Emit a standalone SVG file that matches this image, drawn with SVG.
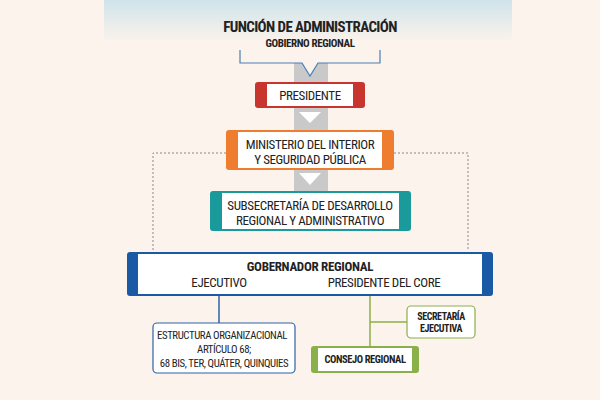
<svg xmlns="http://www.w3.org/2000/svg" width="600" height="400" viewBox="0 0 600 400">
<defs>
<linearGradient id="top" x1="0" y1="0" x2="0" y2="1"><stop offset="0" stop-color="#cfe3ea"/><stop offset="1" stop-color="#fcf3ec"/></linearGradient>
<style>
text{font-family:"Roboto Condensed","Liberation Sans Narrow","Liberation Sans",Arial,sans-serif;fill:#222;text-anchor:middle}
.b{font-weight:bold}
.t{font-size:13px;letter-spacing:-0.4px}
.s{font-size:10.8px;letter-spacing:-0.4px}
</style>
</defs>
<rect width="600" height="400" fill="#fcf3ec"/>
<rect x="104" y="0" width="408" height="42" fill="url(#top)"/>
<text x="310" y="32" class="b" style="font-size:15px;letter-spacing:-0.6px">FUNCIÓN DE ADMINISTRACIÓN</text>
<text x="310" y="47" class="b" style="font-size:11px;letter-spacing:-0.4px">GOBIERNO REGIONAL</text>
<g id="connectors">
<rect x="294" y="62" width="34" height="132" fill="#c9c9c9"/>
<path d="M240 50 V63 H302 L310 76 L318 63 H380 V50" fill="#fcf3ec" stroke="#4a7fb5" stroke-width="1.2"/>
<path d="M299 112 H321 L310 123 Z M299 173 H321 L310 185 Z" fill="#fff"/>
<path d="M226 153 H153 V250 M394 153 H468 V250" fill="none" stroke="#888" stroke-dasharray="2,2"/>
<path d="M219 296 V323" stroke="#2d63a6" stroke-width="1.5"/>
<path d="M370 296 V346 M370 322 H407" stroke="#8ab04a" stroke-width="1.5" fill="none"/>
</g>
<g id="presidente">
<rect x="255" y="82" width="110" height="26" rx="3" fill="#c8352e"/>
<rect x="267" y="84" width="86" height="22" fill="#fff"/>
<text x="310" y="100" class="t">PRESIDENTE</text>
</g>
<g id="ministerio">
<rect x="226" y="130" width="168" height="40" rx="3" fill="#ee7d30"/>
<rect x="238" y="132" width="144" height="36" fill="#fff"/>
<text x="310" y="149" class="t">MINISTERIO DEL INTERIOR</text>
<text x="310" y="164" class="t">Y SEGURIDAD PÚBLICA</text>
</g>
<g id="subsecretaria">
<rect x="210" y="191" width="201" height="40" rx="3" fill="#1a9a9a"/>
<rect x="222" y="193" width="177" height="36" fill="#fff"/>
<text x="310" y="210" class="t">SUBSECRETARÍA DE DESARROLLO</text>
<text x="310" y="225" class="t">REGIONAL Y ADMINISTRATIVO</text>
</g>
<g id="gobernador">
<rect x="127" y="252" width="366" height="44" rx="3" fill="#1a5aa5"/>
<rect x="138" y="254" width="344" height="40" fill="#fff"/>
<text x="310" y="271" class="b" style="font-size:13px;letter-spacing:-0.3px">GOBERNADOR REGIONAL</text>
<text x="219" y="287" class="t">EJECUTIVO</text>
<text x="384" y="287" class="t">PRESIDENTE DEL CORE</text>
</g>
<g id="estructura">
<rect x="153" y="323" width="142" height="50" rx="4" fill="#fff" stroke="#2d63a6" stroke-width="1.2"/>
<text x="222" y="339" class="s">ESTRUCTURA ORGANIZACIONAL</text>
<text x="224" y="353" class="s">ARTÍCULO 68;</text>
<text x="224" y="367" class="s">68 BIS, TER, QUÁTER, QUINQUIES</text>
</g>
<g id="secretaria">
<rect x="407" y="306" width="68" height="32" rx="4" fill="#fff" stroke="#8ab04a" stroke-width="1.2"/>
<text x="441" y="320" class="b" style="font-size:10px;letter-spacing:-0.4px">SECRETARÍA</text>
<text x="441" y="332" class="b" style="font-size:10px;letter-spacing:-0.4px">EJECUTIVA</text>
</g>
<g id="consejo">
<rect x="311" y="346" width="108" height="27" rx="3" fill="#8ab04a"/>
<rect x="318" y="348" width="94" height="23" fill="#fff"/>
<text x="365" y="363" class="b" style="font-size:10.5px;letter-spacing:-0.4px">CONSEJO REGIONAL</text>
</g>
</svg>
